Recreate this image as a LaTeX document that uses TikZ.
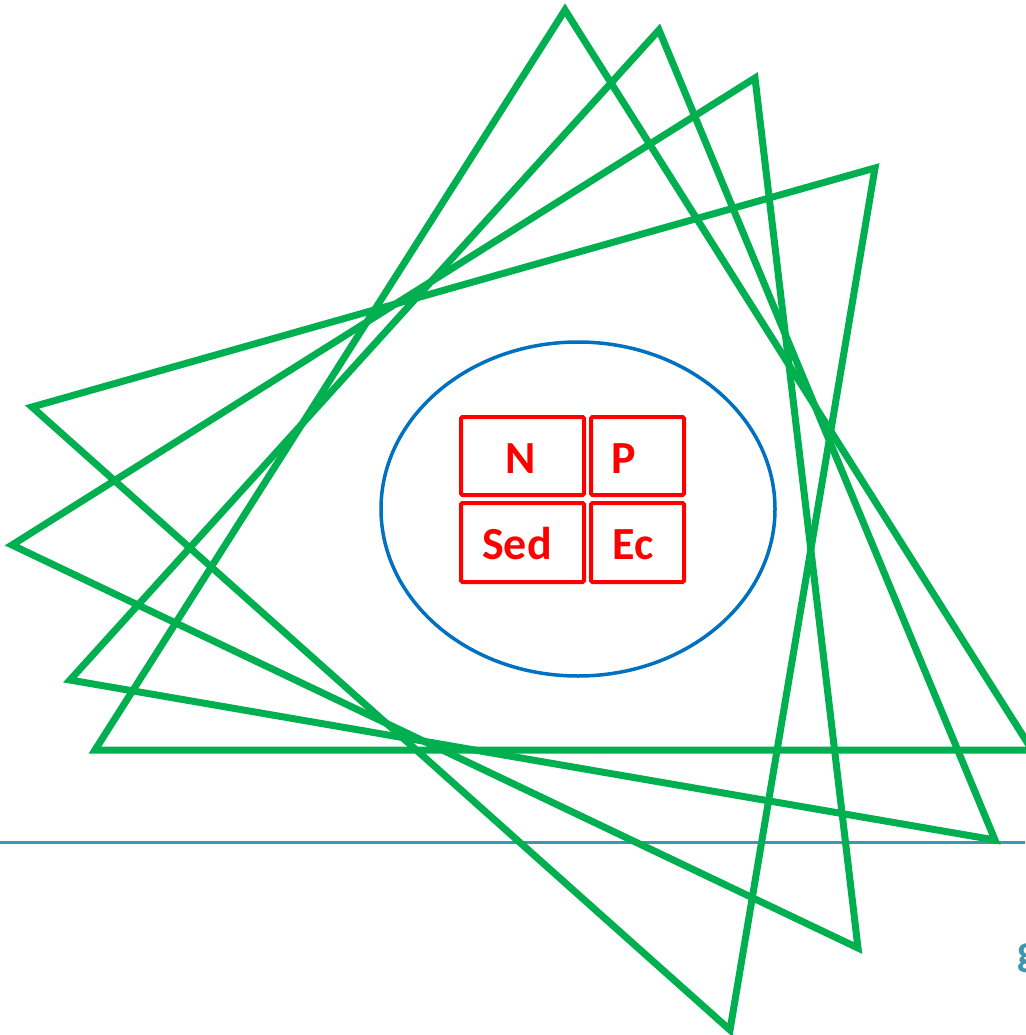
\documentclass[tikz,border=0pt]{standalone}
\usepackage{fontspec}
\setmainfont{Carlito}
\usetikzlibrary{shapes.geometric}
\definecolor{trigreen}{RGB}{0,176,80}
\definecolor{ellblue}{RGB}{0,112,192}
\definecolor{boxred}{RGB}{255,0,0}
\definecolor{lineteal}{RGB}{59,152,176}
\begin{document}
\begin{tikzpicture}[x=1pt,y=-1pt,
  tri/.style={draw=trigreen,line width=7pt,line join=miter},
  cell/.style={draw=boxred,line width=4pt,rounded corners=1.5pt,inner sep=0pt},
  celltext/.style={text=boxred,font=\fontsize{46}{50}\selectfont\bfseries,inner sep=0pt},
]
\useasboundingbox (0,0) rectangle (1025,1035);
% baseline
\draw[lineteal,line width=3pt] (0,842) coordinate (la) -- (1025,842) coordinate (lb);
% triangles
\coordinate (a1) at (565,10);  \coordinate (b1) at (95,750);  \coordinate (c1) at (1032,750);
\coordinate (a2) at (659,30);  \coordinate (b2) at (70,680);  \coordinate (c2) at (995,840);
\coordinate (a3) at (755,78);  \coordinate (b3) at (12,545);  \coordinate (c3) at (858,948);
\coordinate (a4) at (875,168); \coordinate (b4) at (32,407);  \coordinate (c4) at (730,1030);
\draw[tri] (a1) -- (b1) -- (c1) -- cycle;
\draw[tri] (a2) -- (b2) -- (c2) -- cycle;
\draw[tri] (a3) -- (b3) -- (c3) -- cycle;
\draw[tri] (a4) -- (b4) -- (c4) -- cycle;
% ellipse
\node[draw=ellblue,line width=3.5pt,ellipse,minimum width=394pt,minimum height=334pt,inner sep=0pt] (ell) at (578,509) {};
% boxes
\node[cell,minimum width=123pt,minimum height=78pt] (N) at (522.5,456) {};
\node[cell,minimum width=93pt,minimum height=78pt] (P) at (637.5,456) {};
\node[cell,minimum width=123pt,minimum height=79pt] (Sed) at (522.5,542.5) {};
\node[cell,minimum width=93pt,minimum height=79pt] (Ec) at (637.5,542.5) {};
\node[celltext,anchor=base] (tN) at (521,473) {N};
\node[celltext,anchor=base] (tP) at (624,473) {P};
\node[celltext,anchor=base] (tSed) at (517,559) {Sed};
\node[celltext,anchor=base] (tEc) at (633,559) {Ec};
% clipped text at right edge
\node[anchor=west,inner sep=0pt,text=lineteal,font=\fontsize{44}{48}\selectfont\bfseries] (g) at (1017,958) {g};
\end{tikzpicture}
\end{document}
